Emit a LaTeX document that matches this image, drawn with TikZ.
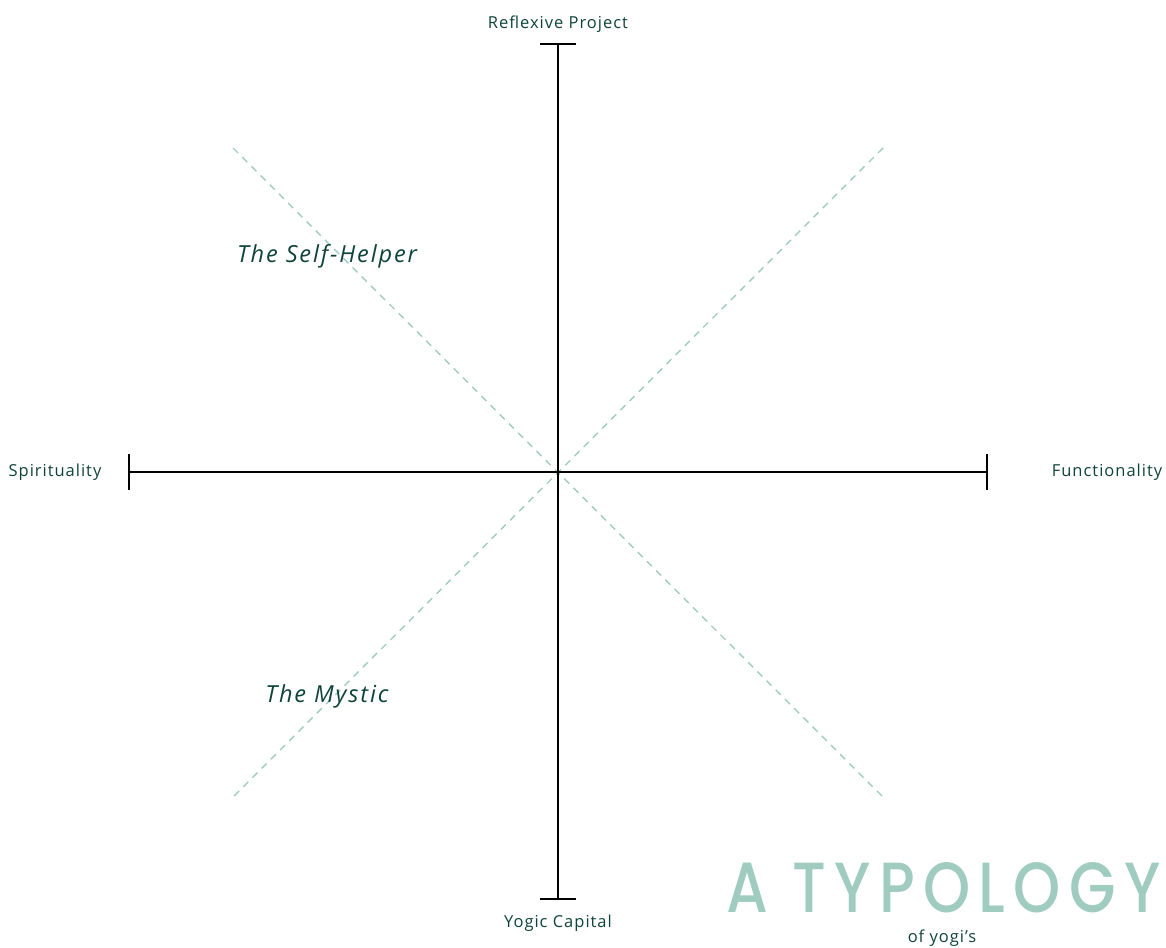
\documentclass[tikz,border=0pt]{standalone}
\usepackage{fontspec}
\setmainfont[LetterSpace=6]{Open Sans}
\newfontfamily\itfont[LetterSpace=8]{Open Sans Italic}
\newfontfamily\titlefont[LetterSpace=14]{Poppins Medium}
\definecolor{ink}{HTML}{0E4339}
\definecolor{mint}{HTML}{A0CCC0}
\tikzset{
  axis/.style={line width=2pt, black},
  capline/.style={line width=2.4pt, black},
  diag/.style={mint, line width=1.4pt, dash pattern=on 7pt off 6pt},
  lbl/.style={text=ink, font=\fontsize{16.5}{19}\selectfont, inner sep=0pt},
  typ/.style={text=ink, font=\fontsize{23.5}{27}\selectfont\itfont, inner sep=0pt}
}
\begin{document}
\begin{tikzpicture}[x=1pt,y=-1pt]
\useasboundingbox (0,0) rectangle (1166,947);
\coordinate (c) at (558,471.5);
\coordinate (top) at (558,44);
\coordinate (bot) at (558,899);
\coordinate (lft) at (129,471.5);
\coordinate (rgt) at (987,471.5);
\coordinate (d1a) at (233,148);
\coordinate (d1b) at (883,797);
\coordinate (d2a) at (883,148);
\coordinate (d2b) at (233,797);
\draw[diag] (d1a) -- (d1b);
\draw[diag] (d2a) -- (d2b);
\draw[axis] (top) -- (bot);
\draw[axis] (lft) -- (rgt);
\draw[capline] ([xshift=-18pt]top) -- ([xshift=18pt]top);
\draw[capline] ([xshift=-18pt]bot) -- ([xshift=18pt]bot);
\draw[capline] ([yshift=-18pt]lft) -- ([yshift=18pt]lft);
\draw[capline] ([yshift=-18pt]rgt) -- ([yshift=18pt]rgt);
\node[lbl] (rp) at (558,24) {Reflexive Project};
\node[lbl] (yc) at (558,923) {Yogic Capital};
\node[lbl] (sp) at (55,472) {Spirituality};
\node[lbl] (fn) at (1107,472) {Functionality};
\node[typ] (sh) at (327,256) {The Self-Helper};
\node[typ] (my) at (327,696) {The Mystic};
\node[inner sep=0pt, anchor=south west, text=mint] (title) at (726,913) {\resizebox{434pt}{50pt}{\titlefont A TYPOLOGY}};
\node[lbl, anchor=base] (of) at (942,942) {of yogi's};
\end{tikzpicture}
\end{document}
